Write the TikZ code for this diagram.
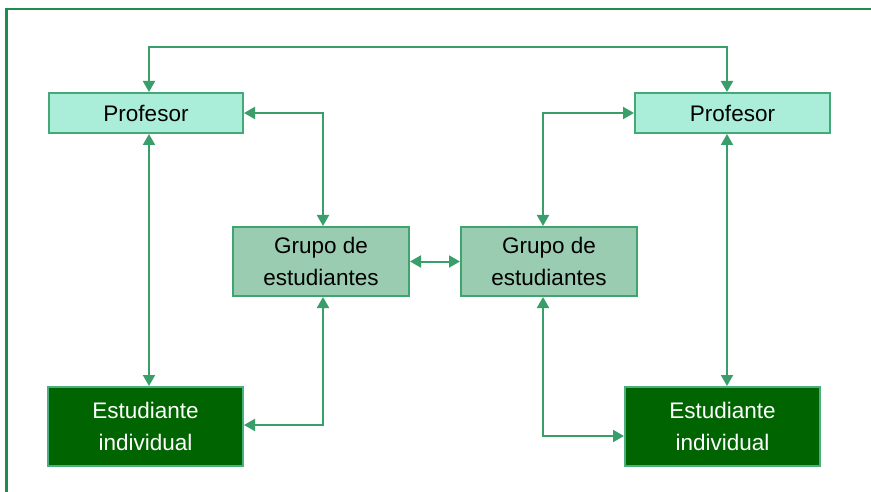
\documentclass[tikz,border=0pt]{standalone}
\usepackage{fontspec}
\setmainfont{Liberation Sans}
\usetikzlibrary{arrows.meta,calc}
\definecolor{frame}{HTML}{1E8C4E}
\definecolor{conn}{HTML}{3A9E6A}
\definecolor{proffill}{HTML}{AAEEDA}
\definecolor{profdraw}{HTML}{45A878}
\definecolor{grupofill}{HTML}{9ACCB2}
\definecolor{grupodraw}{HTML}{3FA470}
\definecolor{estfill}{HTML}{006400}
\definecolor{estdraw}{HTML}{4CAF7F}
\tikzset{
  box/.style={draw, line width=2pt, inner sep=0pt, align=center,
    font=\fontsize{22.5}{32}\selectfont},
  profbox/.style={box, fill=proffill, draw=profdraw, minimum width=194pt, minimum height=40pt},
  grupobox/.style={box, fill=grupofill, draw=grupodraw, minimum width=176pt, minimum height=69pt},
  estbox/.style={box, fill=estfill, draw=estdraw, text=white, minimum width=195pt, minimum height=79pt},
  conn/.style={draw=conn, line width=2pt, {Triangle[length=11pt,width=12pt]}-{Triangle[length=11pt,width=12pt]}},
}
\begin{document}
\begin{tikzpicture}[x=1pt,y=-1pt]
\useasboundingbox (0,0) rectangle (871,492);
\draw[frame, line width=2.5pt] (6.5,492) -- (6.5,9) -- (871,9);

\node[profbox] (profL) at (146,113) {Profesor};
\node[profbox, minimum width=195pt] (profR) at (732.5,113) {Profesor};
\node[grupobox] (grupoL) at (321,261.5) {Grupo de\\estudiantes};
\node[grupobox] (grupoR) at (549,261.5) {Grupo de\\estudiantes};
\node[estbox] (estL) at (145.5,426.5) {Estudiante\\individual};
\node[estbox] (estR) at (722.5,426.5) {Estudiante\\individual};

\coordinate (xA) at (149,0);
\coordinate (xB) at (323,0);
\coordinate (xC) at (543,0);
\coordinate (xD) at (727,0);
\coordinate (yTop) at (0,47);
\coordinate (yEL) at (0,425);
\coordinate (yER) at (0,436);

% top link between the two teachers
\draw[conn] (profL.north -| xA) -- (yTop -| xA) -- (yTop -| xD) -- (profR.north -| xD);
% left teacher to left student
\draw[conn] (profL.south -| xA) -- (estL.north -| xA);
% left teacher to left group
\draw[conn] (profL.east) -| (grupoL.north -| xB);
% left group to left student
\draw[conn] (grupoL.south -| xB) |- (estL.east |- yEL);
% group to group
\draw[conn] (grupoL.east) -- (grupoR.west);
% right group to right teacher
\draw[conn] (grupoR.north -| xC) |- (profR.west);
% right group to right student
\draw[conn] (grupoR.south -| xC) |- (estR.west |- yER);
% right teacher to right student
\draw[conn] (profR.south -| xD) -- (estR.north -| xD);
\end{tikzpicture}
\end{document}
